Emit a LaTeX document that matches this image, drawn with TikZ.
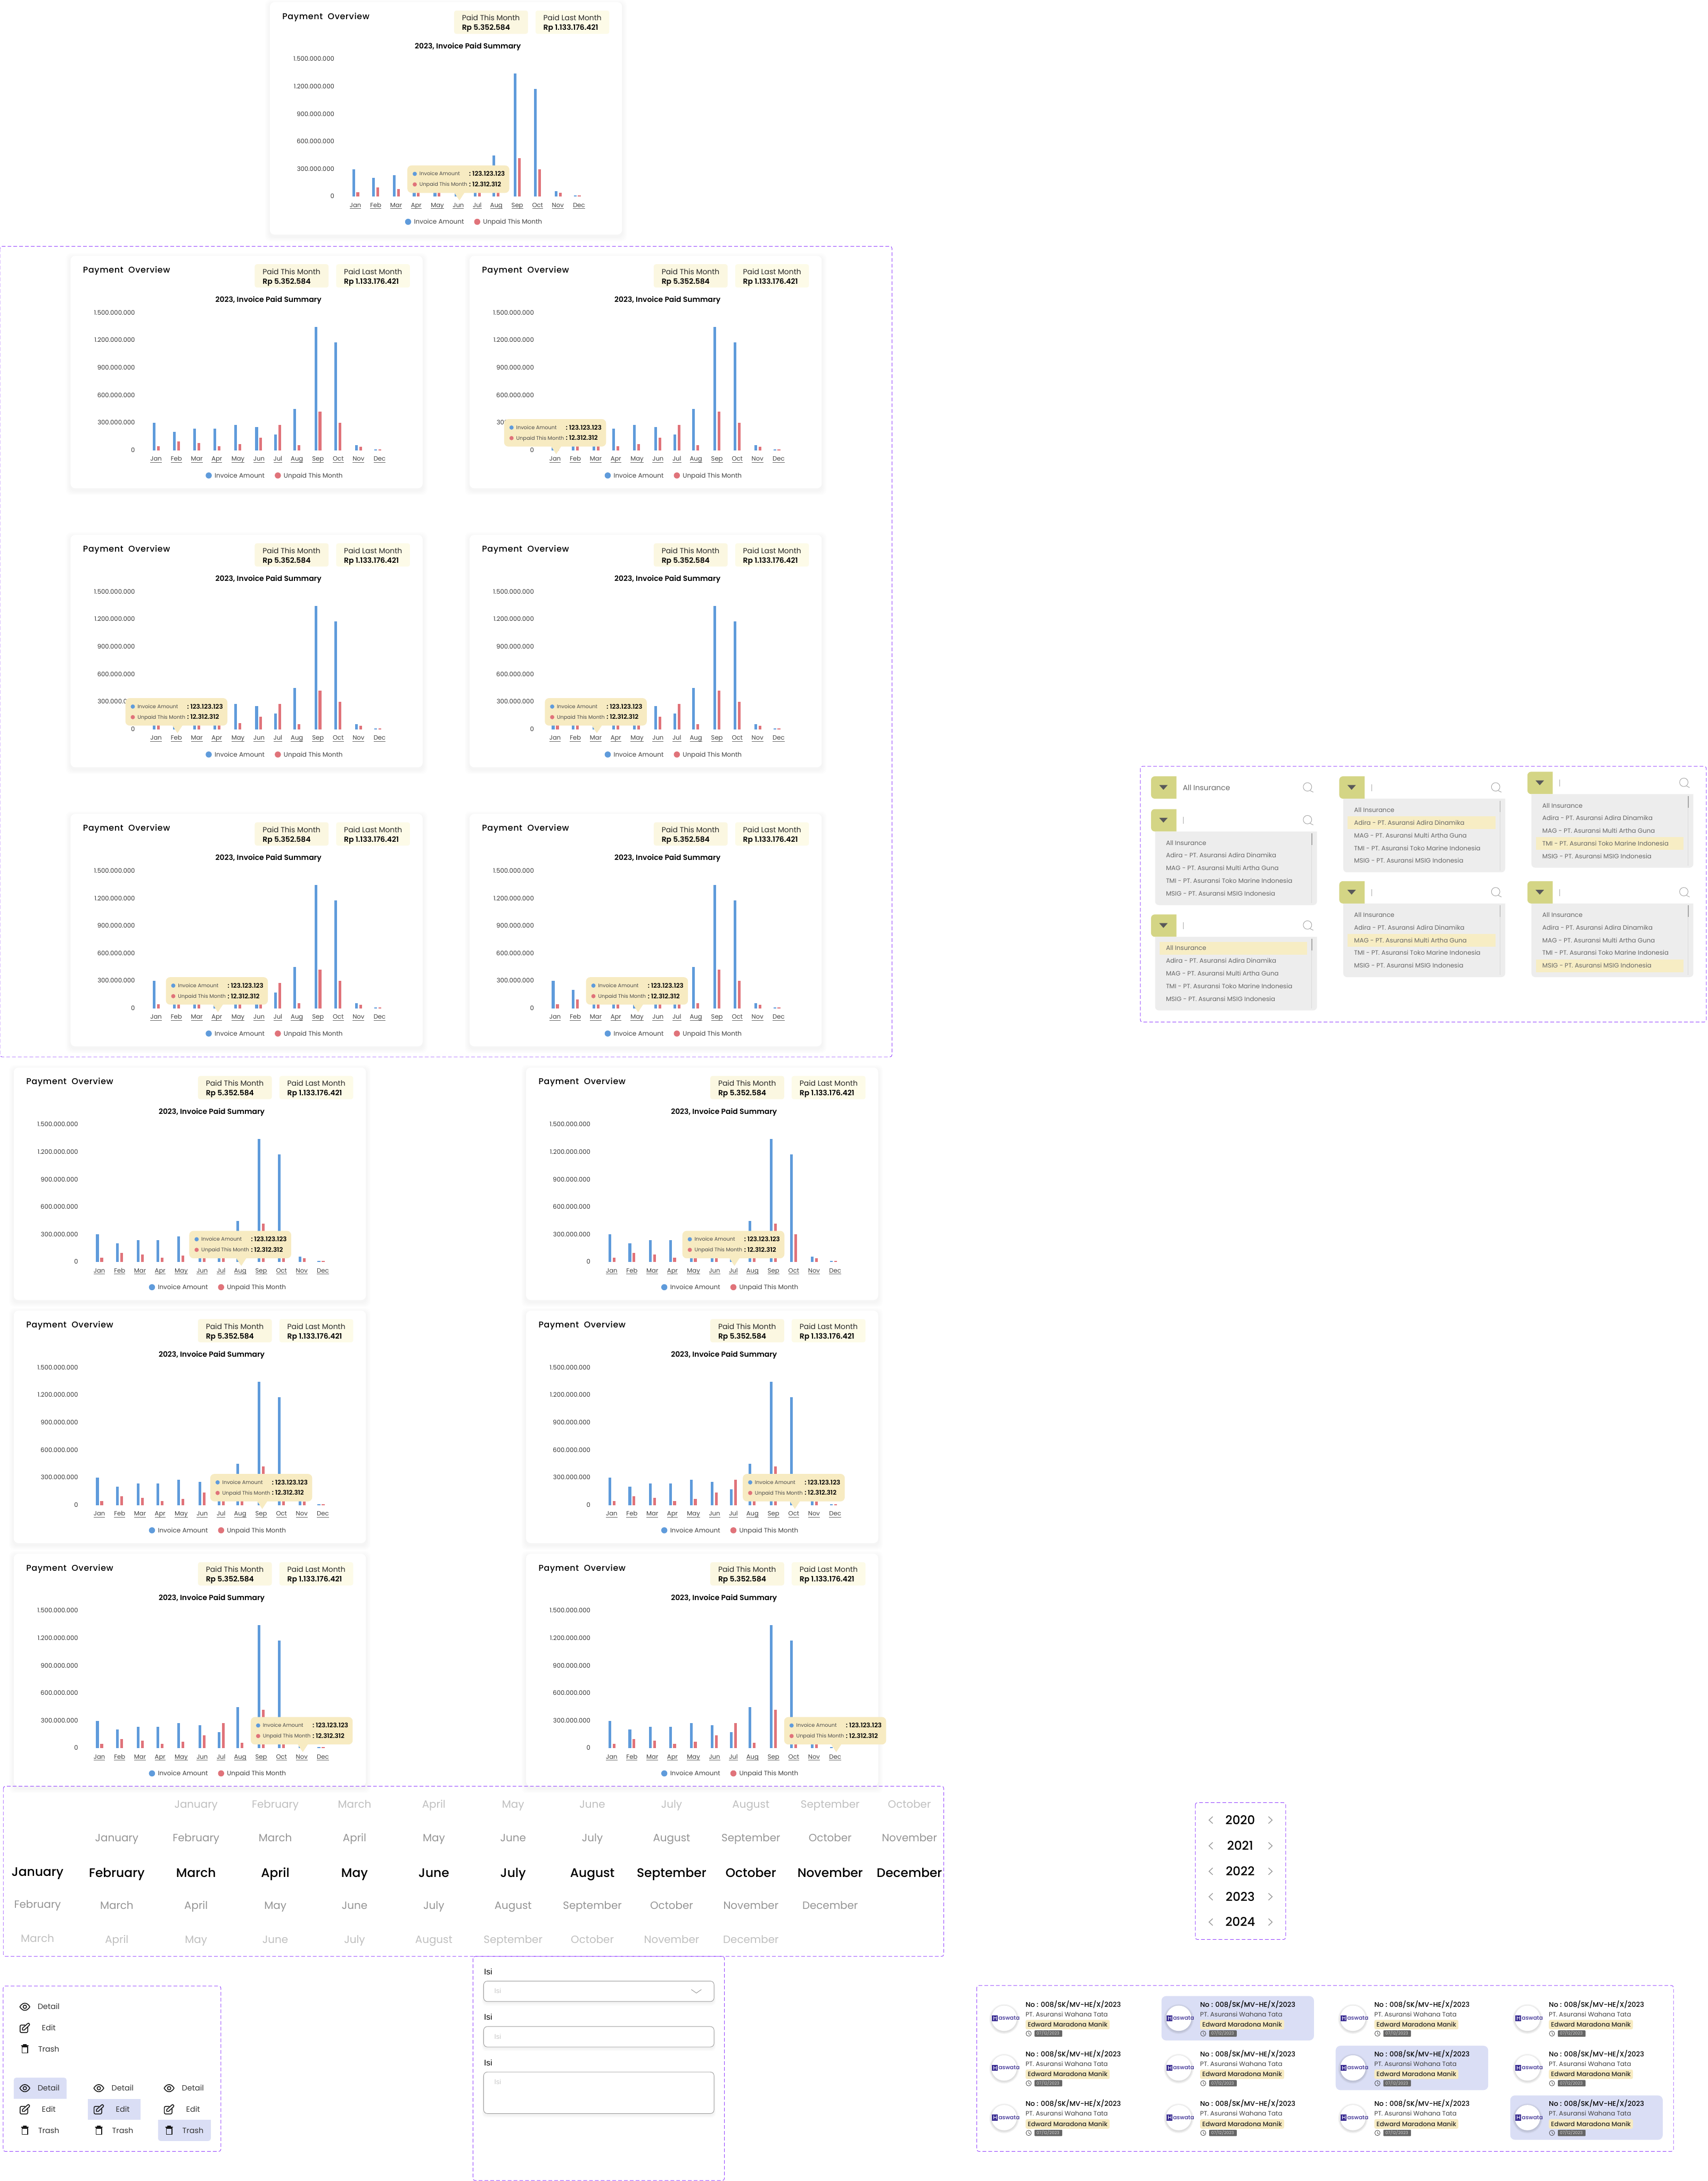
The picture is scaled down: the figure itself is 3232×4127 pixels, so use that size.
\documentclass[tikz,border=0pt]{standalone}
\usepackage{fontspec}
\setmainfont{Poppins}
\newfontfamily\popR{Poppins}
\newfontfamily\popM{Poppins Medium}
\newfontfamily\popS{Poppins SemiBold}
\newfontfamily\popL{Poppins Medium}[LetterSpace=4]
\newfontfamily\lib{Liberation Sans}
\definecolor{inv}{HTML}{5F9BDB}
\definecolor{unp}{HTML}{E0737A}
\definecolor{frm}{HTML}{9747FF}
\definecolor{boxa}{HTML}{FBF7E1}
\definecolor{boxb}{HTML}{FDFBE8}
\definecolor{tipc}{HTML}{F7EBC2}
\definecolor{hlb}{HTML}{DADEF5}
\definecolor{btn}{HTML}{D4D585}
\definecolor{pan}{HTML}{EDEDED}
\definecolor{itm}{HTML}{666666}
\definecolor{hly}{HTML}{F7EDC4}
\definecolor{logo}{HTML}{3B2E93}
\newcounter{nn}
\tikzset{
  every node/.style={/utils/exec={\stepcounter{nn}},name=nd\arabic{nn}},
  frame/.style={draw=frm,line width=1pt,rounded corners=4pt,dash pattern=on 7pt off 4pt},
  icon/.style={draw=black!90,line width=1.6pt,line join=round,line cap=round},
}
\newcommand\fs[1]{\fontsize{#1}{#1}\selectfont}
\newcommand\Tx[7]{\node[anchor=#1,inner sep=0pt,outer sep=0pt,text=#6,font=#5\fs{#4}] at ({#2},{#3+.35*#4}) {#7};}
\newcommand\card[3]{%
\begin{scope}[shift={(#1,#2)}]
 \foreach \k in {1,...,5}{\fill[black,opacity=.007,rounded corners=10pt] ({-\k*1.8},{-\k*1.8+4}) rectangle ({666.5+\k*1.8},{440+\k*1.8+4});}
 \fill[white,rounded corners=9pt] (0,0) rectangle (666.5,440);
 \Tx{base west}{23.7}{26.7}{16}{\popL}{black}{Payment\ \ Overview}
 \fill[boxa,rounded corners=4pt] (348.7,16) rectangle (488.4,60);
 \fill[boxb,rounded corners=4pt] (502.7,16) rectangle (642.4,60);
 \Tx{base west}{363.7}{30}{14}{\popR}{black!85}{Paid This Month}
 \Tx{base west}{363.7}{48.3}{14}{\popS}{black}{Rp 5.352.584}
 \Tx{base west}{517.7}{30}{14}{\popR}{black!85}{Paid Last Month}
 \Tx{base west}{517.7}{48.3}{14}{\popS}{black}{Rp 1.133.176.421}
 \Tx{base}{374.6}{83.3}{14}{\popS}{black}{2023, Invoice Paid Summary}
 \foreach \yy/\ll in {107.7/1.500.000.000,159.7/1.200.000.000,211.7/900.000.000,263.7/600.000.000,315.7/300.000.000,367.7/0}{\Tx{base east}{121.9}{\yy}{11.7}{\popR}{black!80}{\ll}}
 \foreach \bx/\bh/\rh in {155.8/52/8,193.8/35/17,232.6/41/14,270.5/41/8,309.8/48/12,349.6/44/24,385.7/30/48,421.4/78/10,461.6/233/73,499.6/204/52,538.8/10/7,575/2/2}{
  \fill[inv] (\bx,368) rectangle ++(5.2,-\bh);
  \fill[unp] ({\bx+8},368) rectangle ++(5.2,-\rh);}
 \foreach \mx/\mm in {162/Jan,200.4/Feb,239/Mar,277/Apr,317/May,356.7/Jun,392.4/Jul,428.6/Aug,468.3/Sep,506.7/Oct,545/Nov,585/Dec}{
  \node[anchor=base,inner sep=0pt,outer sep=0pt,text=black!75,font=\popR\fs{11.7}] (lab) at (\mx,388.4) {\mm};
  \draw[black!60,line width=.7pt] ([yshift=-2.4pt]lab.base west) -- ([yshift=-2.4pt]lab.base east);}
 \fill[inv] (261.6,415.7) circle (5.8);
 \Tx{base west}{272.8}{415.7}{12.1}{\popR}{black!75}{Invoice Amount}
 \fill[unp] (392.4,415.7) circle (5.8);
 \Tx{base west}{403.6}{415.7}{12.1}{\popR}{black!75}{Unpaid This Month}
 \ifdim#3pt>0pt
  \fill[tipc,rounded corners=8pt] ({#3-96.5},309) rectangle ({#3+96.5},361);
  \fill[tipc] ({#3-8},360) -- ({#3+2},375.3) -- ({#3+12},360) -- cycle;
  \fill[inv] ({#3-82.5},325) circle (4);
  \fill[unp] ({#3-82.5},345) circle (4);
  \Tx{base west}{#3-73.5}{325}{9.8}{\popR}{black!70}{Invoice Amount}
  \Tx{base west}{#3-73.5}{345}{9.8}{\popR}{black!70}{Unpaid This Month}
  \Tx{base west}{#3+20.5}{325}{12}{\popS}{black}{:}
  \Tx{base west}{#3+20.5}{345}{12}{\popS}{black}{:}
  \Tx{base west}{#3+26.5}{325}{12}{\popS}{black}{123.123.123}
  \Tx{base west}{#3+26.5}{345}{12}{\popS}{black}{12.312.312}
 \fi
\end{scope}}
\newcommand\ins[3]{%
\begin{scope}[shift={(#1,#2)}]
 \fill[btn] (48,0) [rounded corners=7pt] -- (0,0) -- (0,42.3) [sharp corners] -- (48,42.3) -- cycle;
 \fill[black!65] (15.4,16.5) -- (31.4,16.5) -- (23.4,25.5) -- cycle;
 \draw[black!35,line width=1pt] (296,20) circle (8);
 \draw[black!35,line width=1pt] (301,27) -- (307,30);
 \ifnum#3=-2
  \Tx{base west}{60}{21.7}{14}{\popR}{black!60}{All Insurance}
 \else
  \draw[black!35,line width=1pt] (61.4,15) -- (61.4,28);
  \fill[pan] (7.6,42.3) [rounded corners=7pt] -- (7.6,181.6) -- (314,181.6) [sharp corners] -- (314,42.3) -- cycle;
  \ifnum#3>-1
   \fill[hly] (15.9,{52+24*#3}) rectangle (295.4,{76+24*#3});
  \fi
  \draw[black!15,line width=1pt] (304.3,46) -- (304.3,178);
  \draw[black!35,line width=1.6pt] (304.3,46) -- (304.3,68);
  \foreach \ii/\tt in {0/All Insurance,1/Adira - PT. Asuransi Adira Dinamika,2/MAG - PT. Asuransi Multi Artha Guna,3/TMI - PT. Asuransi Toko Marine Indonesia,4/MSIG - PT. Asuransi MSIG Indonesia}{
   \Tx{base west}{28.3}{64+24*\ii}{11.9}{\popR}{itm}{\tt}}
 \fi
\end{scope}}
\newcommand\eyeic[2]{\begin{scope}[shift={(#1,#2)}]
 \draw[icon] (-9.5,0) .. controls (-4,-9) and (4,-9) .. (9.5,0) .. controls (4,9) and (-4,9) .. (-9.5,0) -- cycle;
 \draw[icon] (0,0) circle (3.2);\end{scope}}
\newcommand\editic[2]{\begin{scope}[shift={(#1,#2)}]
 \draw[icon,rounded corners=2.5pt] (0,-5.5) -- (-9,-5.5) -- (-9,8.8) -- (5.5,8.8) -- (5.5,-1);
 \draw[icon] (-4.5,4) -- (-4.5,.5) -- (5,-8) -- (7,-9) -- (9,-7) -- (8.5,-5) -- (-1,4) -- cycle;\end{scope}}
\newcommand\trashic[2]{\begin{scope}[shift={(#1,#2)}]
 \draw[icon] (-6.5,-6) -- (6.5,-6);\draw[icon] (-3,-8) -- (3,-8);
 \draw[icon] (-5.3,-4) rectangle (5.3,7.5);\end{scope}}
\newcommand\acts[2]{%
 \eyeic{#1+47}{#2}\Tx{base west}{#1+71.3}{#2}{14.5}{\popR}{black!80}{Detail}
 \editic{#1+47}{#2+40}\Tx{base west}{#1+79.3}{#2+40}{14.5}{\popR}{black!80}{Edit}
 \trashic{#1+47}{#2+80}\Tx{base west}{#1+72.3}{#2+80}{14.5}{\popR}{black!80}{Trash}}
\newcommand\nt[3]{%
\begin{scope}[shift={(#1,#2)}]
 \ifnum#3=1 \fill[hlb,rounded corners=9pt] (-32.6,-42) rectangle (256,42); \fi
 \foreach \k in {1,...,4}{\fill[black,opacity=.03] (0,1.5) circle ({24+\k*1.1});}
 \fill[white] (0,0) circle (24);
 \fill[logo] (-23,-5.7) rectangle (-12,5.7);
 \draw[white,line width=.9pt] (-20,-3.5) -- (-20,3.5) (-15,-3.5) -- (-15,3.5) (-20,-.5) -- (-15,-.5);
 \Tx{base west}{-10.6}{-.6}{10.6}{\popM}{logo}{aswata}
 \Tx{base west}{40.6}{-25.7}{13}{\popM}{black}{No : 008/SK/MV-HE/X/2023}
 \Tx{base west}{40.6}{-7.3}{12}{\popR}{black!75}{PT. Asuransi Wahana Tata}
 \fill[tipc,rounded corners=3pt] (40.6,3) rectangle (199.6,21);
 \Tx{base west}{44.6}{12}{12}{\popM}{black!85}{Edward Maradona Manik}
 \draw[black!75,line width=.8pt] (46.4,29) circle (5);
 \draw[black!75,line width=.8pt] (46.4,26) -- (46.4,29) -- (48.6,31);
 \fill[black!60,rounded corners=1pt] (57.6,23) rectangle (109.8,35);
 \Tx{base west}{61.4}{29}{8}{\popR}{black!15}{07/12/2023}
\end{scope}}
\begin{document}
\begin{tikzpicture}[x=1pt,y=-1pt]
\useasboundingbox (0,0) rectangle (3232,4127);
\fill[white] (0,0) rectangle (3232,4127);
\card{510.7}{4}{356.7}
\draw[frame] (0,466) rectangle (1688,2000);
\card{133.4}{484}{0}
\card{888.5}{484}{162}
\card{133.4}{1012}{200.4}
\card{888.5}{1012}{239}
\card{133.4}{1540}{277}
\card{888.5}{1540}{317}
\card{26}{2020}{428.6}
\card{995.5}{2020}{392.4}
\card{26}{2480}{468.3}
\card{995.5}{2480}{506.7}
\card{26}{2940}{545}
\card{995.5}{2940}{585}
\draw[frame] (2158,1450) rectangle (3229,1934);
\ins{2178.3}{1469}{-2}
\ins{2178.3}{1531}{-1}
\ins{2178.3}{1730.3}{0}
\ins{2534.4}{1469}{1}
\ins{2534.4}{1667.3}{2}
\ins{2890.5}{1460.3}{3}
\ins{2890.5}{1667.3}{4}
\draw[frame] (6.3,3380) rectangle (1786,3702);
\foreach \c/\m in {3/January,4/February,5/March,6/April,7/May,8/June,9/July,10/August,11/September,12/October}{\Tx{base}{71+150*(\c-1)}{3414}{20}{\popR}{black!25}{\m}}
\foreach \c/\m in {2/January,3/February,4/March,5/April,6/May,7/June,8/July,9/August,10/September,11/October,12/November}{\Tx{base}{71+150*(\c-1)}{3478}{20}{\popR}{black!42}{\m}}
\foreach \c/\m in {2/February,3/March,4/April,5/May,6/June,7/July,8/August,9/September,10/October,11/November,12/December}{\Tx{base}{71+150*(\c-1)}{3544}{23.5}{\popM}{black}{\m}}
\Tx{base}{71}{3542}{23.5}{\popM}{black}{January}
\foreach \c/\m in {2/March,3/April,4/May,5/June,6/July,7/August,8/September,9/October,10/November,11/December}{\Tx{base}{71+150*(\c-1)}{3606}{20}{\popR}{black!42}{\m}}
\Tx{base}{71}{3604}{20}{\popR}{black!42}{February}
\foreach \c/\m in {2/April,3/May,4/June,5/July,6/August,7/September,8/October,9/November,10/December}{\Tx{base}{71+150*(\c-1)}{3670}{20}{\popR}{black!25}{\m}}
\Tx{base}{71}{3668}{20}{\popR}{black!25}{March}
\draw[frame] (2262,3411) rectangle (2433,3670);
\foreach \yy/\ll in {3444/2020,3492.7/2021,3541/2022,3589/2023,3637/2024}{
 \Tx{base}{2347}{\yy}{23}{\popM}{black}{\ll}
 \draw[black!40,line width=1.4pt] (2295,\yy-6.5) -- (2288,\yy) -- (2295,\yy+6.5);
 \draw[black!40,line width=1.4pt] (2400.5,\yy-6.5) -- (2407.5,\yy) -- (2400.5,\yy+6.5);}
\draw[frame] (6,3758) rectangle (418,4071);
\fill[hlb] (26,3971.3) [rounded corners=5pt] -- (26,3931.3) -- (126,3931.3) [sharp corners] -- (126,3971.3) -- cycle;
\fill[hlb] (166,3971.3) rectangle (266,4011.3);
\fill[hlb] (299,4011.3) [rounded corners=5pt] -- (299,4051.3) -- (399,4051.3) [sharp corners] -- (399,4011.3) -- cycle;
\acts{0}{3797.3}
\acts{0}{3951.3}
\acts{140}{3951.3}
\acts{273}{3951.3}
\draw[frame] (895,3702) rectangle (1371,4126);
\foreach \yt/\yb/\yl in {3748.7/3787.3/3731,3834.7/3873.3/3817,3920.7/3999.3/3903}{
 \Tx{base west}{916}{\yl}{15.5}{\lib}{black}{Isi}
 \foreach \k in {1,...,4}{\fill[black,opacity=.012,rounded corners=8pt] ({915.3-\k*.8},{\yt+3}) rectangle ({1351.3+\k*.8},{\yb+2+\k*1.5});}
 \filldraw[fill=white,draw=black!40,line width=.9pt,rounded corners=7pt] (915.3,\yt) rectangle (1351.3,\yb);}
\Tx{base west}{935.3}{3767.7}{13}{\lib}{black!22}{Isi}
\Tx{base west}{935.3}{3853.7}{13}{\lib}{black!22}{Isi}
\Tx{base west}{935.3}{3939.7}{13}{\lib}{black!22}{Isi}
\draw[black!40,line width=1pt] (1308.3,3764.7) -- (1317.8,3771.3) -- (1327.3,3764.7);
\draw[frame] (1848.5,3757) rectangle (3167,4071);
\nt{1900.3}{3819}{0}\nt{2230.6}{3819}{1}\nt{2560.3}{3819}{0}\nt{2890.6}{3819}{0}
\nt{1900.3}{3913}{0}\nt{2230.6}{3913}{0}\nt{2560.3}{3913}{1}\nt{2890.6}{3913}{0}
\nt{1900.3}{4007}{0}\nt{2230.6}{4007}{0}\nt{2560.3}{4007}{0}\nt{2890.6}{4007}{1}
\end{tikzpicture}
\end{document}
